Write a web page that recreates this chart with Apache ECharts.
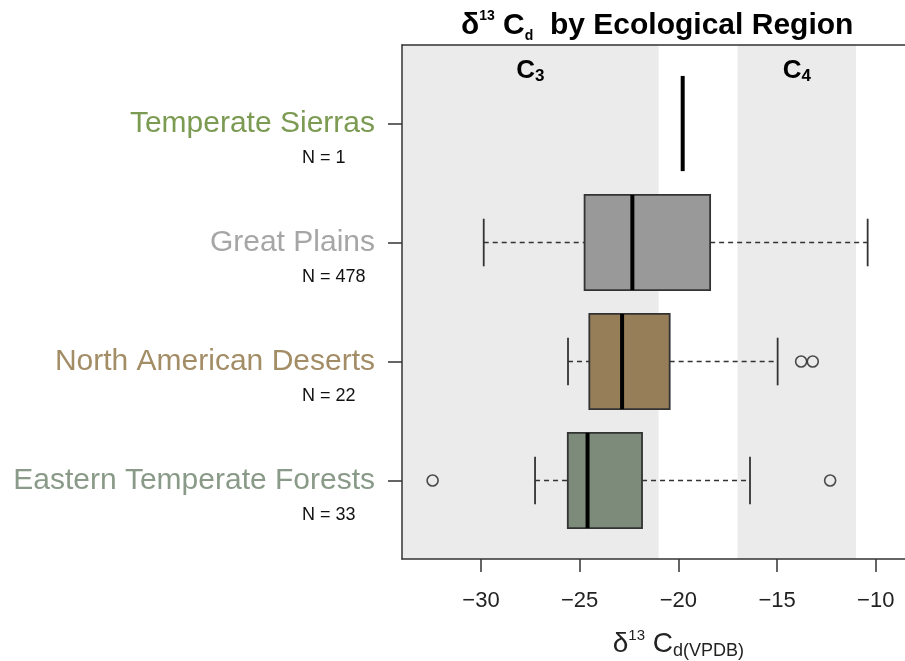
<!DOCTYPE html>
<html>
<head>
<meta charset="utf-8">
<script src="https://cdn.jsdelivr.net/npm/echarts@6/dist/echarts.min.js"></script>
<style>
  html, body { margin: 0; padding: 0; background: #ffffff; }
  #chart { width: 905px; height: 661px; }
</style>
</head>
<body>
<div id="chart"></div>
<script>
// ---- data (bottom to top) ----
const categories = ['Eastern Temperate Forests', 'North American Deserts', 'Great Plains', 'Temperate Sierras'];
const sampleSizes = [33, 22, 478, 1];
const whiskerLow  = [-27.26, -25.59, -29.86, -19.78];
const quartile1   = [-25.60, -24.51, -24.75, -19.78];
const medians     = [-24.60, -22.85, -22.33, -19.78];
const quartile3   = [-21.84, -20.44, -18.39, -19.78];
const whiskerHigh = [-16.37, -14.97, -10.41, -19.78];
const outlierValues = [-32.45, -12.31, -13.78, -13.19];
const outlierGroups = [0, 0, 1, 1];
const xTickValues = [-30, -25, -20, -15, -10];
const c3Range = [-34, -21];
const c4Range = [-17, -11];

// ---- styles ----
const boxColors   = ['#7d8c7a', '#967f58', '#999999', '#999999'];
const labelColors = ['#8a9a88', '#a38d66', '#a6a6a6', '#7b9a52'];
const FONT = 'Liberation Sans, Arial, Helvetica, sans-serif';

const positions = categories.map((c, i) => i + 1);
const boxData = categories.map((c, i) => [positions[i], whiskerLow[i], quartile1[i], medians[i], quartile3[i], whiskerHigh[i], i]);
const outlierData = outlierValues.map((v, i) => [v, positions[outlierGroups[i]]]);

const richLabels = {};
categories.forEach((c, i) => {
  richLabels['c' + i] = { color: labelColors[i], fontSize: 30, fontFamily: FONT };
});

const minus = v => String(v).replace('-', '\u2212');

const chart = echarts.init(document.getElementById('chart'), null, { renderer: 'canvas' });

chart.setOption({
  animation: false,
  backgroundColor: '#ffffff',
  title: {
    text: '{d|\u03b4}{sup|13}{c| C}{sub|d}{t|  by Ecological Region}',
    left: 461,
    top: 9,
    padding: 0,
    textStyle: {
      rich: {
        d:   { fontSize: 30, fontWeight: 'bold', fontFamily: FONT, color: '#000', lineHeight: 34 },
        sup: { fontSize: 14, fontWeight: 'bold', fontFamily: FONT, color: '#000', verticalAlign: 'top', lineHeight: 22 },
        c:   { fontSize: 30, fontWeight: 'bold', fontFamily: FONT, color: '#000', lineHeight: 34 },
        sub: { fontSize: 14, fontWeight: 'bold', fontFamily: FONT, color: '#000', verticalAlign: 'bottom', lineHeight: 20 },
        t:   { fontSize: 30, fontWeight: 'bold', fontFamily: FONT, color: '#000', lineHeight: 34 }
      }
    }
  },
  grid: { left: 402, top: 45, width: 552.7, height: 514, containLabel: false, outerBoundsMode: 'none' },
  xAxis: [
    {
      type: 'value', min: -34, max: -6, position: 'bottom', z: 10,
      splitLine: { show: false },
      axisLine: { show: true, onZero: false, lineStyle: { color: '#333', width: 1.5 } },
      axisTick: { show: true, inside: false, length: 13, customValues: xTickValues, lineStyle: { color: '#333', width: 1.5 } },
      axisLabel: { customValues: xTickValues, formatter: minus, fontSize: 22, color: '#222', fontFamily: FONT, margin: 31 },
      name: '{d|\u03b4}{sup|13}{c| C}{sub|d(VPDB)}',
      nameLocation: 'middle',
      nameGap: 69,
      nameTextStyle: {
        rich: {
          d:   { fontSize: 28, fontFamily: FONT, color: '#222', lineHeight: 32 },
          sup: { fontSize: 15, fontFamily: FONT, color: '#222', verticalAlign: 'top', lineHeight: 22 },
          c:   { fontSize: 28, fontFamily: FONT, color: '#222', lineHeight: 32 },
          sub: { fontSize: 18, fontFamily: FONT, color: '#222', verticalAlign: 'bottom', lineHeight: 20 }
        }
      }
    },
    {
      type: 'value', min: -34, max: -6, position: 'top', z: 10,
      splitLine: { show: false },
      axisLine: { show: true, onZero: false, lineStyle: { color: '#333', width: 1.5 } },
      axisTick: { show: false }, axisLabel: { show: false }
    }
  ],
  yAxis: [
    {
      type: 'value', min: 0.34, max: 4.66, position: 'left', z: 10,
      splitLine: { show: false },
      axisLine: { show: true, onZero: false, lineStyle: { color: '#333', width: 1.5 } },
      axisTick: { show: true, length: 14, customValues: positions, lineStyle: { color: '#333', width: 1.5 } },
      axisLabel: {
        customValues: positions,
        margin: 27,
        formatter: v => {
          const i = Math.round(v) - 1;
          return '{c' + i + '|' + categories[i] + '}';
        },
        rich: richLabels
      }
    },
    {
      type: 'value', min: 0.34, max: 4.66, position: 'left',
      splitLine: { show: false },
      axisLine: { show: false }, axisTick: { show: false },
      axisLabel: {
        customValues: positions,
        margin: 100,
        align: 'left',
        verticalAlign: 'top',
        padding: [26, 0, 0, 0],
        fontSize: 18,
        color: '#111',
        fontFamily: FONT,
        formatter: v => 'N = ' + sampleSizes[Math.round(v) - 1]
      }
    }
  ],
  series: [
    {
      type: 'line', data: [], z: 1, silent: true,
      markArea: {
        silent: true,
        itemStyle: { color: '#ebebeb' },
        label: {
          show: true, position: 'insideTop', distance: 12,
          formatter: '{c|C}{s|{b}}',
          rich: {
            c: { fontSize: 26, fontWeight: 'bold', fontFamily: FONT, color: '#000', lineHeight: 28 },
            s: { fontSize: 17, fontWeight: 'bold', fontFamily: FONT, color: '#000', verticalAlign: 'bottom', lineHeight: 16 }
          }
        },
        data: [
          [{ name: '3', xAxis: c3Range[0] }, { xAxis: c3Range[1] }],
          [{ name: '4', xAxis: c4Range[0] }, { xAxis: c4Range[1] }]
        ]
      }
    },
    {
      type: 'custom', z: 3,
      data: boxData,
      encode: { x: [1, 2, 3, 4, 5], y: 0 },
      renderItem: (params, api) => {
        const y = api.value(0);
        const idx = api.value(6);
        const half = api.size([0, 0.4])[1];
        const capHalf = api.size([0, 0.2])[1];
        const pLo = api.coord([api.value(1), y]);
        const pQ1 = api.coord([api.value(2), y]);
        const pMed = api.coord([api.value(3), y]);
        const pQ3 = api.coord([api.value(4), y]);
        const pHi = api.coord([api.value(5), y]);
        const cy = pMed[1];
        const dash = { stroke: '#333', lineWidth: 1.6, lineDash: [5, 4] };
        const solid = { stroke: '#333', lineWidth: 1.8 };
        return {
          type: 'group',
          children: [
            { type: 'line', shape: { x1: pLo[0], y1: cy, x2: pQ1[0], y2: cy }, style: dash },
            { type: 'line', shape: { x1: pQ3[0], y1: cy, x2: pHi[0], y2: cy }, style: dash },
            { type: 'line', shape: { x1: pLo[0], y1: cy - capHalf, x2: pLo[0], y2: cy + capHalf }, style: solid },
            { type: 'line', shape: { x1: pHi[0], y1: cy - capHalf, x2: pHi[0], y2: cy + capHalf }, style: solid },
            { type: 'rect', shape: { x: pQ1[0], y: cy - half, width: pQ3[0] - pQ1[0], height: 2 * half },
              style: { fill: boxColors[idx], stroke: '#333', lineWidth: 1.8 } },
            { type: 'line', shape: { x1: pMed[0], y1: cy - half, x2: pMed[0], y2: cy + half },
              style: { stroke: '#000', lineWidth: 4 } }
          ]
        };
      }
    },
    {
      type: 'scatter', z: 4,
      data: outlierData,
      symbol: 'circle',
      symbolSize: 11,
      itemStyle: { color: 'rgba(0,0,0,0)', borderColor: '#222', borderWidth: 1.6 }
    }
  ]
});
</script>
</body>
</html>
